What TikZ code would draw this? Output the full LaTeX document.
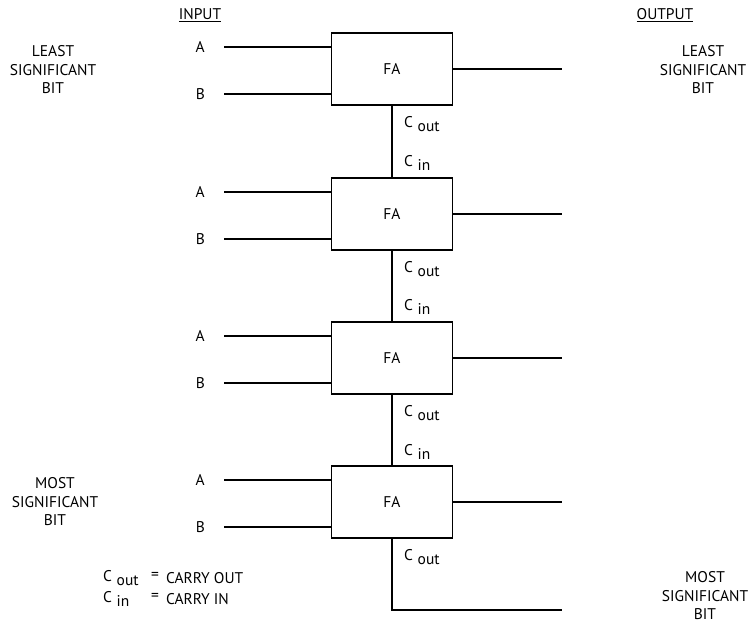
\documentclass[tikz,border=0pt]{standalone}
\usepackage{fontspec}
\setmainfont{PT Sans}
\begin{document}
\begin{tikzpicture}[x=1pt,y=-1pt,
  fabox/.style={draw,line width=1.1pt,minimum width=121pt,minimum height=72pt,inner sep=0pt,font=\fontsize{15.5}{15.5}\selectfont},
  wire/.style={line width=1.1pt},
  lbl/.style={font=\fontsize{15.5}{15.5}\selectfont,inner sep=0pt},
  side/.style={font=\fontsize{15.5}{18.5}\selectfont,align=center,inner sep=0pt},
  carry/.style={font=\fontsize{15.5}{15.5}\selectfont,inner sep=0pt,anchor=west}]
\useasboundingbox (0,0) rectangle (755,624);
\newcommand{\Cout}{C\hspace{0.3em}\raisebox{-0.45ex}{out}}
\newcommand{\Cin}{C\hspace{0.3em}\raisebox{-0.45ex}{in}}
% headers
\node[lbl] (inhdr) at (200,15) {\underline{INPUT}};
\node[lbl] (outhdr) at (665,15) {\underline{OUTPUT}};
\node[side] (lsbl) at (53,70) {LEAST\\SIGNIFICANT\\BIT};
\node[side] (lsbr) at (703,70) {LEAST\\SIGNIFICANT\\BIT};
\node[side] (msbl) at (55,502) {MOST\\SIGNIFICANT\\BIT};
\node[side] (msbr) at (705,596) {MOST\\SIGNIFICANT\\BIT};
% boxes
\foreach \i/\y in {1/69,2/214,3/358,4/502}{
  \node[fabox] (fa\i) at (392,\y) {FA};
  \coordinate (a\i) at (224,\y-22);
  \coordinate (b\i) at (224,\y+25);
  \coordinate (o\i) at (562,\y);
  \node[lbl,anchor=east] (la\i) at (205,\y-22) {A};
  \node[lbl,anchor=east] (lb\i) at (205,\y+25) {B};
  \draw[wire] (a\i) -- (a\i -| fa\i.west);
  \draw[wire] (b\i) -- (b\i -| fa\i.west);
  \draw[wire] (fa\i.east |- o\i) -- (o\i);
  \node[carry] (co\i) at (404,\y+55) {\Cout};
}
\foreach \i/\j in {1/2,2/3,3/4}{
  \draw[wire] (fa\i.south) -- (fa\j.north);
}
\node[carry] (ci2) at (404,163) {\Cin};
\node[carry] (ci3) at (404,307) {\Cin};
\node[carry] (ci4) at (404,452) {\Cin};
\coordinate (msbout) at (562,610);
\draw[wire] (fa4.south) |- (msbout);
% legend
\node[lbl,anchor=west] (leg1) at (103,578) {\Cout};
\node[lbl] (eq1) at (155,576) {=};
\node[lbl,anchor=west] (leg1t) at (166,578) {CARRY OUT};
\node[lbl,anchor=west] (leg2) at (103,599) {\Cin};
\node[lbl] (eq2) at (155,597) {=};
\node[lbl,anchor=west] (leg2t) at (166,599) {CARRY IN};
\end{tikzpicture}
\end{document}
